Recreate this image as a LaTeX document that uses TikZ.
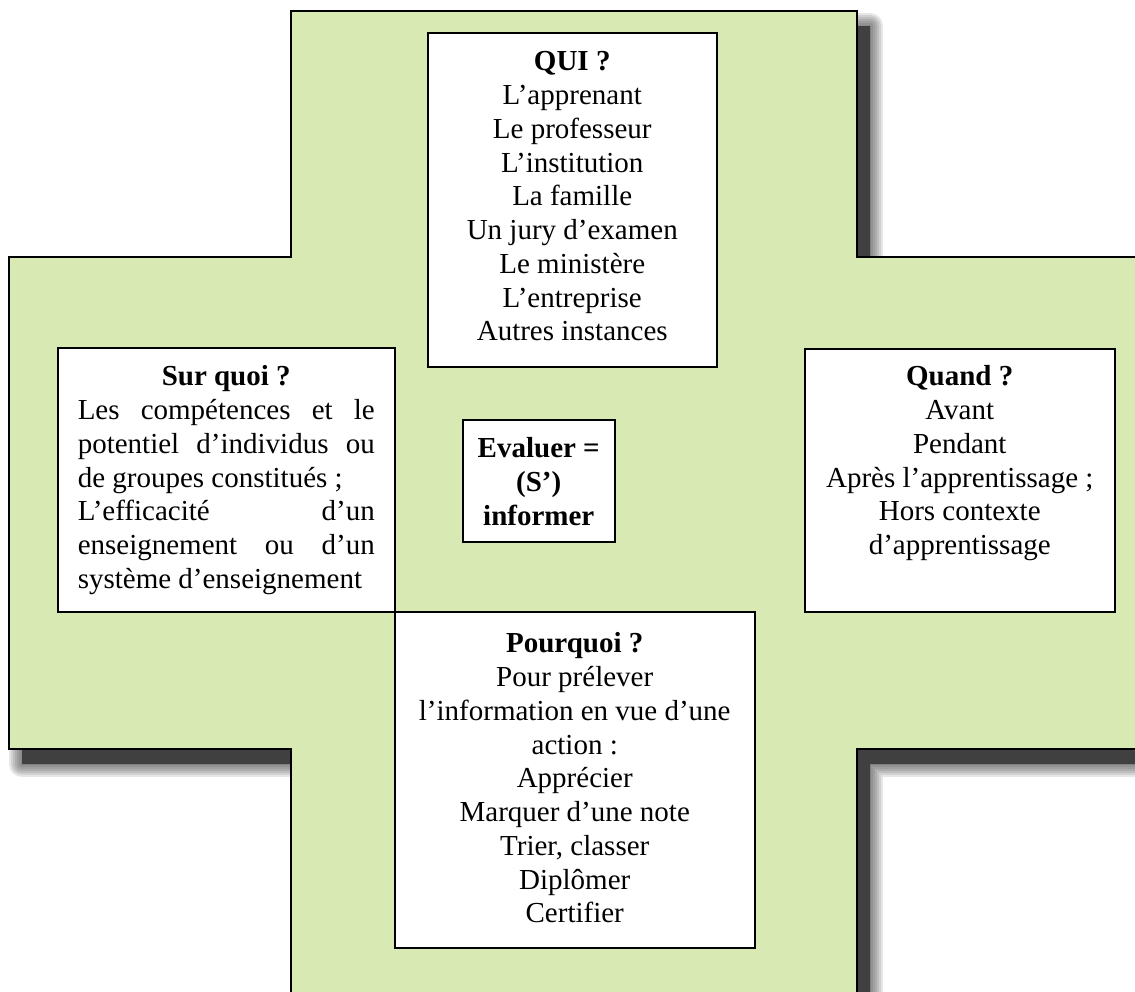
\documentclass[tikz,border=0pt]{standalone}
\usepackage{fontspec}
\setmainfont{Liberation Serif}
\definecolor{vertcroix}{RGB}{216,233,180}

\begin{document}
\begin{tikzpicture}[
		x=1pt,
		y=-1pt,
		croix/.style={
			insert path={(291,11) -- (857,11) -- (857,257) -- (1160,257) -- (1160,749)
				-- (857,749) -- (857,1020) -- (291,1020) -- (291,749) -- (9,749)
				-- (9,257) -- (291,257) -- cycle},
		},
		ombre/.style={
			black!75,
			shift={(13,15)},
			line join=round,
		},
		every node/.style={
			font=\fontsize{29}{33.75}\selectfont,
		},
		cadre/.style={
			draw,
			line width=1.5pt,
			fill=white,
			anchor=north west,
			inner sep=0pt,
			align=flush center,
			text height=38pt,
		},
	]
		\useasboundingbox (0,0) rectangle (1135,991);
		\clip (0,0) rectangle (1135,991);
		\foreach \e in {26,22,18,14,10,6,2}
			\draw[ombre, line width=\e pt, draw opacity=0.13, croix];
		\fill[ombre, croix];
		\draw[line width=2pt, fill=vertcroix, croix];

		\node[cadre, text width=289pt, text depth=296pt] (qui) at (427,32)
			{\textbf{QUI ?}\\ L’apprenant\\ Le professeur\\ L’institution\\ La famille\\
			 Un jury d’examen\\ Le ministère\\ L’entreprise\\ Autres instances};
		\node[cadre, inner xsep=20pt, text width=297pt, text depth=226pt, align=justify] (surquoi) at (57,347)
			{\makebox[\linewidth]{\bfseries Sur quoi ?}\\
			 \makebox[\linewidth][s]{Les compétences et le}\\
			 \makebox[\linewidth][s]{potentiel d’individus ou}\\
			 de groupes constitués ;\\
			 \makebox[\linewidth][s]{L’efficacité d’un}\\
			 \makebox[\linewidth][s]{enseignement ou d’un}\\
			 système d’enseignement};
		\node[cadre, text width=152pt, text depth=84pt, font=\fontsize{29}{33.75}\selectfont\bfseries] (evaluer) at (462,419)
			{Evaluer =\\ (S’)\\ informer};
		\node[cadre, text width=310pt, text height=37pt, text depth=226pt] (quand) at (804,348)
			{\textbf{Quand ?}\\ Avant\\ Pendant\\ Après l’apprentissage ;\\ Hors contexte\\ d’apprentissage};
		\node[cadre, text width=360pt, text height=41pt, text depth=295pt] (pourquoi) at (394,611)
			{\textbf{Pourquoi ?}\\ Pour prélever\\ l’information en vue d’une\\ action :\\ Apprécier\\
			 Marquer d’une note\\ Trier, classer\\ Diplômer\\ Certifier};
	\end{tikzpicture}
\end{document}
